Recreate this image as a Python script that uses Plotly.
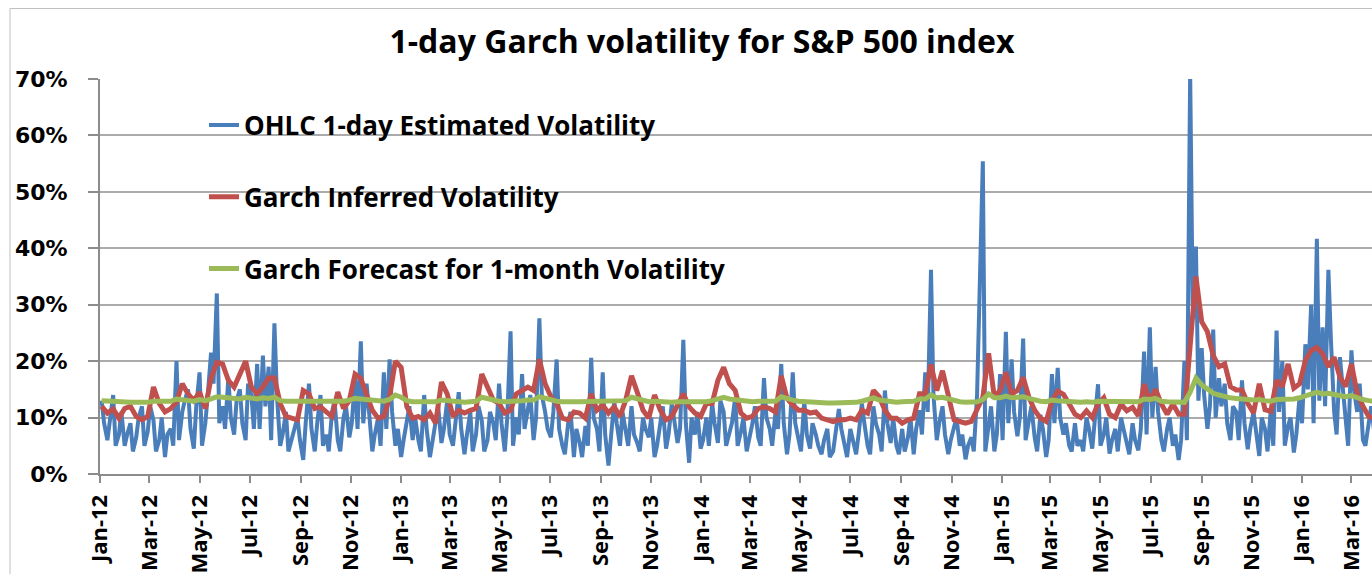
import pandas as pd
import plotly.graph_objects as go

# ---- data (percent) ----
# Weekly readings, first on 2012-01-03 (Tuesday), then every 7 days
week_start = "2012-01-03"
# Mid-week readings of the OHLC series, first on 2012-01-06 (Friday), then every 7 days
mid_start = "2012-01-06"

ohlc_vol_wk = [
    13, 6, 14, 7, 5, 9, 6.5, 12, 7.5, 9.5,
    6, 3, 8, 20, 11, 15, 4.5, 18, 9, 21.5,
    32, 12, 17, 7, 15, 6, 14, 19.5, 21, 19,
    26.7, 5, 11, 6, 10, 2.5, 16, 4, 14, 7,
    11, 6, 10, 6.5, 17, 23.5, 16, 4, 10, 18,
    20.3, 5, 3, 9, 6, 6, 14, 3, 9, 5.5,
    13, 5, 14.5, 3.5, 11, 7, 9.5, 6, 9, 16,
    4, 25.3, 10, 17.7, 12, 6, 27.6, 11, 6.5, 20.3,
    5, 9, 3, 5.5, 8.5, 20.6, 8, 18, 1.5, 13,
    5, 8, 12, 5.5, 10, 6.5, 3, 9, 4.5, 12.5,
    5.5, 23.8, 2, 7, 4.5, 10, 12.5, 5.5, 11, 7,
    13.5, 7.5, 4, 9, 6.5, 17, 8, 11, 19.5, 3.5,
    18, 6.5, 13, 4.5, 7, 3.5, 8, 4, 11.5, 5,
    8, 3.5, 12.5, 5, 12, 7, 14.8, 5.5, 5, 8,
    6.5, 3.5, 11.3, 18, 36.2, 6, 12, 3.5, 8, 5,
    2.6, 6.5, 14, 55.4, 9, 4, 17.7, 25.2, 20.3, 6.7,
    24, 9.5, 6.5, 10.5, 3, 17.7, 18.8, 7, 5, 9,
    6, 10, 4.5, 15.9, 7, 3.6, 8, 10, 5.5, 9,
    4.2, 21.7, 26, 19, 6, 8, 5, 2.5, 20, 71,
    40.3, 22.3, 8, 25.6, 17, 16, 6, 11, 16.6, 4.4,
    11, 3.2, 7.9, 11.4, 25.4, 20, 8.5, 3.8, 13.7, 23,
    30, 41.7, 26, 36.2, 11, 20.7, 9, 21.9, 11, 6,
    9, 7,
]

ohlc_vol_mid = [
    9, 10, 5, 11, 7, 4, 10, 5, 12, 4,
    10, 7, 5, 6, 13, 8, 12, 5, 14, 16,
    9, 8, 10, 13, 9, 16, 8, 8, 12, 6,
    14, 7, 4, 8, 6, 9, 8, 9, 5, 4,
    13, 4, 12, 9, 8, 9, 11, 7, 5, 8,
    11, 8, 6, 12, 10, 4, 8, 6, 12, 8,
    7, 9, 8, 7, 4, 12, 4, 11, 6, 9,
    10, 5, 7, 8, 14, 10, 14, 8, 11, 8,
    3.5, 11, 8, 3, 5, 10, 4, 7, 6, 9,
    11, 5, 7, 4, 8, 10, 5, 12, 7, 9,
    8, 9, 10, 11, 6, 5, 9, 13, 5, 9,
    5, 10, 6, 12, 5, 10, 5, 8, 9, 7,
    9, 4, 7, 9, 5, 6, 3, 7, 8, 3,
    6, 7, 9, 3.5, 9, 4, 9, 10, 3.5, 4,
    10, 8, 7, 11, 14, 9, 7, 6, 10, 7,
    5, 4, 33, 4, 12, 7, 6, 9, 11, 10,
    6, 12, 4, 8, 6, 9, 10, 9, 4, 5,
    4, 8, 9, 5, 10, 6, 4, 8, 3.5, 6,
    8, 7, 10, 11, 4, 10, 7, 6, 6, 30,
    13, 14, 12, 10, 12, 9, 12, 6, 9, 8,
    7, 10, 4, 5, 11, 5, 10, 7, 9, 15,
    9, 13, 12, 24, 7, 16, 5, 15, 16, 5,
    12,
]

garch_inferred = [
    12, 10.8, 11.5, 9.9, 11.6, 12, 10.2, 9.6, 10.2, 15.4,
    12.5, 11, 11.6, 12.8, 16, 14.2, 13, 14.5, 11.6, 17,
    19.8, 19.5, 16.6, 15.4, 17.7, 20, 15.4, 14.2, 15.4, 17,
    17, 12.5, 10.2, 9.9, 9.6, 14.8, 14.2, 11.6, 11.9, 11,
    10.2, 14.5, 11.6, 13, 17.7, 16.9, 14.2, 11.3, 9.9, 10.2,
    13.7, 20, 18.9, 11.9, 9.9, 10.2, 9.6, 10.8, 9, 16.3,
    14.2, 10.2, 11.3, 10.8, 11.3, 11.6, 17.7, 15.4, 13.1, 12.5,
    10.8, 11.3, 14.2, 14.8, 15.4, 14.8, 20.3, 16, 13.7, 12.5,
    9.9, 9.6, 11, 10.8, 9.9, 14.2, 11.3, 12.2, 10.8, 11.9,
    10.2, 13.1, 17.4, 14.5, 11.3, 9.9, 14, 11.3, 9.6, 10.2,
    12.2, 14.2, 11.9, 10.8, 10.2, 12.5, 12.5, 16.6, 18.9, 16,
    14.8, 10.8, 9.9, 10.2, 11.6, 11.9, 11.6, 11, 17.4, 13.4,
    12.2, 11.3, 11.3, 10.8, 11, 9.9, 9.6, 9.3, 9.6, 9.6,
    9.9, 9.6, 11.3, 10.8, 14.8, 13.7, 11.3, 9.9, 9.9, 9,
    9.6, 9.9, 14.2, 14.2, 19.4, 14.8, 18.3, 14.2, 9.6, 9.3,
    9, 9.3, 11.3, 13.6, 21.4, 13.6, 14.8, 18, 14.2, 14.8,
    17.1, 13.6, 11.3, 9.9, 9.3, 13, 14.7, 14.1, 12.4, 10.6,
    10, 11.2, 10, 12.4, 13.5, 10.6, 10, 12.4, 11.2, 11.8,
    10.3, 15.9, 12.9, 15, 12.4, 10.6, 12.4, 10.6, 10.6, 23.4,
    35, 27, 25.2, 21, 19, 19.5, 15.5, 14.9, 14.9, 12.5,
    10.8, 16, 11.4, 11.1, 16.6, 15.5, 19.5, 15.2, 16, 20.1,
    21.9, 22.4, 21.3, 19, 20.7, 17.2, 15.5, 19.5, 14.3, 12,
    10.2, 9.9,
]

garch_forecast = [
    13.0, 12.9, 12.9, 12.8, 12.8, 12.7, 12.7, 12.6, 12.7, 12.9,
    12.9, 12.8, 12.9, 13.3, 13.2, 13.1, 12.9, 13.2, 13.0, 13.3,
    13.7, 13.6, 13.5, 13.4, 13.3, 13.6, 13.4, 13.3, 13.5, 13.4,
    13.6, 13.0, 12.9, 12.9, 12.8, 13.0, 13.0, 12.9, 12.8, 12.8,
    12.9, 13.0, 12.9, 13.1, 13.4, 13.3, 13.2, 13.0, 12.8, 12.9,
    13.2, 14.0, 13.6, 13.0, 12.8, 12.8, 12.9, 12.7, 12.8, 13.1,
    13.0, 12.8, 12.8, 12.7, 12.8, 12.9, 13.6, 13.3, 13.0, 12.9,
    12.8, 12.8, 12.9, 13.0, 13.1, 13.1, 13.7, 13.4, 13.2, 12.9,
    12.8, 12.7, 12.8, 12.8, 12.8, 13.0, 12.9, 12.8, 12.8, 12.9,
    12.8, 13.0, 13.6, 13.3, 13.0, 12.8, 12.9, 12.8, 12.7, 12.7,
    12.8, 12.9, 12.8, 12.8, 12.7, 12.8, 13.0, 13.3, 13.6, 13.3,
    13.2, 12.9, 12.8, 12.8, 12.9, 12.9, 12.9, 12.9, 13.7, 13.3,
    13.1, 12.9, 12.8, 12.8, 12.7, 12.7, 12.6, 12.6, 12.6, 12.7,
    12.6, 12.7, 12.9, 13.1, 13.5, 13.1, 12.9, 12.8, 12.7, 12.8,
    12.8, 12.9, 13.3, 13.3, 14.0, 13.5, 13.6, 13.3, 12.9, 12.8,
    12.7, 12.7, 12.8, 13.2, 14.2, 13.5, 13.5, 13.8, 13.5, 13.6,
    13.7, 13.4, 13.1, 12.9, 12.8, 13.1, 13.0, 12.9, 12.8, 12.7,
    12.7, 12.8, 12.7, 12.9, 12.9, 12.8, 12.7, 12.8, 12.8, 12.8,
    12.8, 13.3, 13.2, 13.4, 12.9, 12.8, 12.8, 12.7, 12.7, 14.5,
    17.0, 15.8, 15.0, 14.3, 14.0, 13.7, 13.5, 13.4, 13.4, 13.2,
    13.1, 13.2, 13.0, 12.9, 13.2, 13.2, 13.4, 13.3, 13.5, 13.8,
    14.1, 14.5, 14.2, 14.3, 14.1, 13.9, 13.7, 13.9, 13.5, 13.2,
    13.0, 12.9,
]

series_names = [
    "OHLC 1-day Estimated Volatility",
    "Garch Inferred Volatility",
    "Garch Forecast for 1-month Volatility",
]
series_colors = ["#4A7EBB", "#C0504D", "#9BBB59"]
title_text = "1-day Garch volatility for S&P 500 index"

# ---- assemble ----
wk_dates = pd.date_range(week_start, periods=len(ohlc_vol_wk), freq="7D")
mid_dates = pd.date_range(mid_start, periods=len(ohlc_vol_mid), freq="7D")
blue = pd.concat([
    pd.Series(ohlc_vol_wk, index=wk_dates),
    pd.Series(ohlc_vol_mid, index=mid_dates),
]).sort_index()

red_dates = pd.date_range(week_start, periods=len(garch_inferred), freq="7D")
green_dates = pd.date_range(week_start, periods=len(garch_forecast), freq="7D")

fig = go.Figure()
fig.add_trace(go.Scatter(x=blue.index, y=blue.values, mode="lines", name=series_names[0],
                         line=dict(color=series_colors[0], width=4), legendgroup="g0"))
fig.add_trace(go.Scatter(x=red_dates, y=garch_inferred, mode="lines", name=series_names[1],
                         line=dict(color=series_colors[1], width=5), legendgroup="g1"))
fig.add_trace(go.Scatter(x=green_dates, y=garch_forecast, mode="lines", name=series_names[2],
                         line=dict(color=series_colors[2], width=5), legendgroup="g2"))

W, H = 1372, 574
L, R, T, B = 100, 0, 79, 97
plot_w = W - L - R
plot_h = H - T - B

fig.update_layout(
    width=W, height=H,
    margin=dict(l=L, r=R, t=T, b=B),
    paper_bgcolor="white", plot_bgcolor="white",
    title=dict(
        text=title_text,
        font=dict(family="Open Sans", size=32, color="#000000", weight="bold"),
        x=702 / W, xref="container", xanchor="center",
        y=1 - 42 / H, yref="container", yanchor="middle",
    ),
    showlegend=True,
    legend=dict(
        x=(204 - L) / plot_w, xanchor="left",
        y=(H - B - 101.7) / plot_h, yanchor="top",
        font=dict(family="Open Sans", size=26, color="#000000", weight="bold"),
        bgcolor="rgba(0,0,0,0)", borderwidth=0,
        tracegroupgap=35,
    ),
    xaxis=dict(
        type="date",
        range=["2012-01-01", "2016-03-26"],
        tick0="2012-01-01", dtick="M2", tickformat="%b-%y",
        tickangle=-90,
        tickfont=dict(family="Open Sans", size=22, color="#000000", weight="bold"),
        showgrid=False, showline=True, linecolor="#8C8C8C", linewidth=2,
        ticks="outside", ticklen=7, tickwidth=1.5, tickcolor="#8C8C8C",
        ticklabelstandoff=3,
        zeroline=False,
    ),
    yaxis=dict(
        range=[0, 70], dtick=10, ticksuffix="%",
        tickfont=dict(family="DejaVu Sans", size=22, color="#000000", weight="bold"),
        showgrid=True, gridcolor="#ABABAB", gridwidth=1.5,
        showline=True, linecolor="#8C8C8C", linewidth=2,
        ticks="outside", ticklen=10, tickwidth=1.5, tickcolor="#8C8C8C",
        ticklabelstandoff=16,
        zeroline=False,
    ),
    shapes=[dict(
        type="rect", xref="paper", yref="paper",
        x0=(10 - L) / plot_w, x1=1.2,
        y0=-0.5, y1=(H - B - 8) / plot_h,
        line=dict(color="#BFBFBF", width=1), fillcolor="rgba(0,0,0,0)",
        layer="below",
    )],
)

fig.write_html("out.html", config={"displayModeBar": False},
               post_script="document.body.style.margin='0px';")
